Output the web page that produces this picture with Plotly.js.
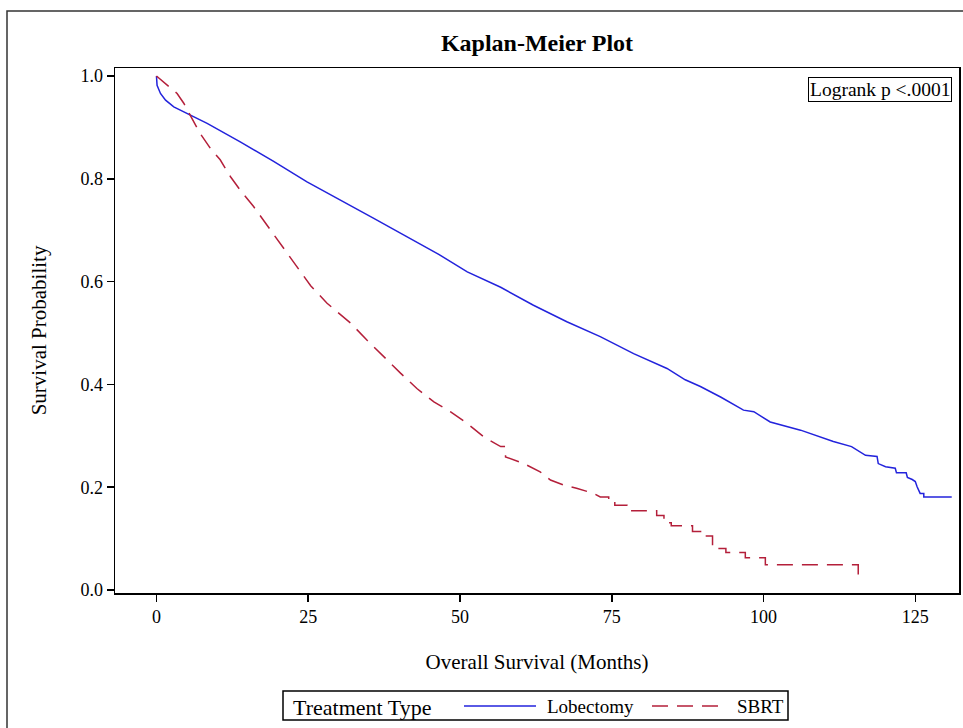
<!DOCTYPE html>
<html>
<head>
<meta charset="utf-8">
<script src="https://cdn.plot.ly/plotly-3.0.1.min.js"></script>
<style>
  html, body { margin: 0; padding: 0; background: #fff; }
  #chart { width: 963px; height: 728px; }
</style>
</head>
<body>
<div id="chart"></div>
<script>
// Lobectomy (blue) – survival estimates
const lobTime = [0, 0.1, 0.66, 1.5, 2.85, 5.0, 8.35, 13.8, 19.3, 24.8, 30.3, 35.8, 41.0, 46.5, 51.2, 56.7, 62.1, 67.6, 73.1, 78.6, 84.1, 87.1, 89.6, 93.0, 96.7, 98.4, 101.1, 104.4, 106.1, 111.5, 114.5, 116.8, 118.7, 118.9, 120.1, 121.7, 121.9, 123.5, 123.7, 124.5, 125.0, 125.3, 125.6, 125.8, 126.4, 126.4, 131.0];
const lobSurv = [1.0, 0.982, 0.966, 0.953, 0.940, 0.927, 0.908, 0.872, 0.834, 0.794, 0.759, 0.723, 0.689, 0.653, 0.619, 0.589, 0.554, 0.522, 0.493, 0.460, 0.431, 0.409, 0.396, 0.375, 0.350, 0.347, 0.327, 0.317, 0.311, 0.289, 0.279, 0.262, 0.260, 0.246, 0.240, 0.237, 0.228, 0.228, 0.219, 0.215, 0.211, 0.201, 0.191, 0.188, 0.188, 0.181, 0.181];

// SBRT (red dashed)
const sbrtTime = [0, 1.5, 3.4, 4.5, 5.6, 7.2, 8.9, 10.5, 12.2, 13.8, 16.0, 17.7, 19.9, 21.5, 22.6, 25.4, 28.1, 32.0, 34.7, 37.4, 40.2, 42.9, 45.7, 48.4, 51.2, 53.9, 56.7, 57.5, 57.5, 60.5, 63.2, 64.9, 67.1, 69.2, 72.0, 73.1, 74.5, 74.5, 75.5, 75.5, 77.5, 77.5, 78.3, 78.3, 82.4, 82.4, 83.6, 83.6, 84.8, 84.8, 88.3, 88.3, 90.2, 90.2, 91.6, 91.6, 93.8, 93.8, 97.0, 97.0, 100.3, 100.3, 115.6, 115.6];
const sbrtSurv = [1.0, 0.985, 0.966, 0.947, 0.924, 0.888, 0.859, 0.837, 0.804, 0.778, 0.746, 0.718, 0.682, 0.655, 0.637, 0.592, 0.558, 0.519, 0.486, 0.454, 0.422, 0.392, 0.366, 0.347, 0.324, 0.298, 0.279, 0.279, 0.259, 0.246, 0.230, 0.214, 0.204, 0.198, 0.188, 0.181, 0.181, 0.175, 0.175, 0.165, 0.165, 0.159, 0.159, 0.154, 0.154, 0.145, 0.145, 0.131, 0.131, 0.125, 0.125, 0.114, 0.114, 0.105, 0.105, 0.081, 0.081, 0.073, 0.073, 0.063, 0.063, 0.049, 0.049, 0.025];

const groupNames = ['Lobectomy', 'SBRT'];
const legendTitle = 'Treatment Type';
const xTicks = [0, 25, 50, 75, 100, 125];
const yTicks = [0.0, 0.2, 0.4, 0.6, 0.8, 1.0];

const serif = "'Liberation Serif', 'Times New Roman', serif";
const blue = '#2323dc';
const red = '#b41f3a';
const redDash = '16px,9px';

const traces = [
  {
    x: lobTime, y: lobSurv, name: groupNames[0], type: 'scatter', mode: 'lines',
    line: { color: blue, width: 1.5, shape: 'linear' }, showlegend: false
  },
  {
    x: sbrtTime, y: sbrtSurv, name: groupNames[1], type: 'scatter', mode: 'lines',
    line: { color: red, width: 1.5, shape: 'linear', dash: redDash }, showlegend: false
  }
];

// plot-area pixel helpers for the legend block (paper coordinates)
const L = 115, R = 959, T = 68, B = 593;
const px = v => (v - L) / (R - L);
const py = v => (B - v) / (B - T);

const layout = {
  width: 963, height: 728,
  paper_bgcolor: '#ffffff', plot_bgcolor: '#ffffff',
  margin: { l: L, r: 963 - R, t: T, b: 728 - B, autoexpand: false },
  font: { family: serif, color: '#000', size: 18 },
  showlegend: false,
  title: {
    text: '<b>Kaplan-Meier Plot</b>',
    font: { family: serif, size: 24, color: '#000' },
    x: 0.5, xref: 'paper', xanchor: 'center', y: 0.941, yref: 'container', yanchor: 'middle'
  },
  xaxis: {
    range: [-6.83, 132.2], automargin: false,
    tickvals: xTicks, ticktext: xTicks.map(String),
    ticks: 'outside', ticklen: 7, tickwidth: 1.5, tickcolor: '#000',
    showline: true, linecolor: '#000', linewidth: 1.5, mirror: true,
    showgrid: false, zeroline: false,
    tickfont: { family: serif, size: 18, color: '#000' },
    title: { text: 'Overall Survival (Months)', font: { family: serif, size: 21, color: '#000' }, standoff: 28 }
  },
  yaxis: {
    range: [-0.0058, 1.0156], automargin: false,
    tickvals: yTicks, ticktext: yTicks.map(v => v.toFixed(1)),
    ticks: 'outside', ticklen: 7, tickwidth: 1.5, tickcolor: '#000',
    showline: true, linecolor: '#000', linewidth: 1.5, mirror: true,
    showgrid: false, zeroline: false,
    tickfont: { family: serif, size: 18, color: '#000' },
    title: { text: 'Survival Probability', font: { family: serif, size: 21, color: '#000' }, standoff: 28 }
  },
  annotations: [
    {
      text: 'Logrank p <.0001', xref: 'paper', yref: 'paper', x: px(952), y: py(77),
      xanchor: 'right', yanchor: 'top', showarrow: false,
      font: { family: serif, size: 19.5, color: '#000' },
      bordercolor: '#000', borderwidth: 1, borderpad: 1, bgcolor: '#fff'
    },
    {
      text: legendTitle, xref: 'paper', yref: 'paper', x: px(291), y: py(707),
      xanchor: 'left', yanchor: 'middle', showarrow: false,
      font: { family: serif, size: 22, color: '#000' }
    },
    {
      text: groupNames[0], xref: 'paper', yref: 'paper', x: px(545), y: py(706),
      xanchor: 'left', yanchor: 'middle', showarrow: false,
      font: { family: serif, size: 19, color: '#000' }
    },
    {
      text: groupNames[1], xref: 'paper', yref: 'paper', x: px(735), y: py(706),
      xanchor: 'left', yanchor: 'middle', showarrow: false,
      font: { family: serif, size: 19, color: '#000' }
    }
  ],
  shapes: [
    {
      type: 'rect', xref: 'paper', yref: 'paper',
      x0: px(7), x1: px(1100), y0: py(900), y1: py(11),
      line: { color: '#333', width: 1.5 }, fillcolor: 'rgba(0,0,0,0)', layer: 'below'
    },
    {
      type: 'rect', xref: 'paper', yref: 'paper',
      x0: px(283), x1: px(788), y0: py(720), y1: py(691),
      line: { color: '#000', width: 1.5 }, fillcolor: 'rgba(0,0,0,0)'
    },
    {
      type: 'line', xref: 'paper', yref: 'paper',
      x0: px(464), x1: px(536), y0: py(706), y1: py(706),
      line: { color: blue, width: 1.5 }
    },
    {
      type: 'line', xref: 'paper', yref: 'paper',
      x0: px(652), x1: px(719), y0: py(706), y1: py(706),
      line: { color: red, width: 1.5, dash: redDash }
    }
  ]
};

Plotly.newPlot('chart', traces, layout, { displayModeBar: false, staticPlot: true });
</script>
</body>
</html>
